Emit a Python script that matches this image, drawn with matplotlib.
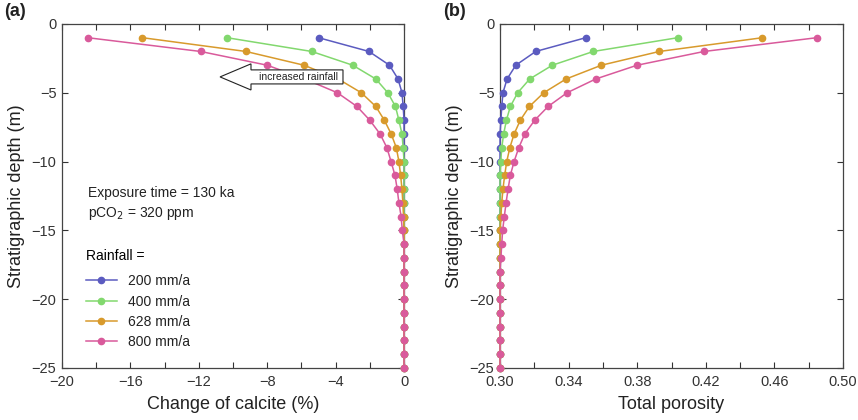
import matplotlib
matplotlib.use('Agg')
import matplotlib.pyplot as plt
from matplotlib.patches import Polygon
from matplotlib.ticker import MultipleLocator, FuncFormatter

plt.rcParams['font.family'] = ['Liberation Sans', 'DejaVu Sans']

# ----------------------------------------------------------------
# Data: depth profiles, 1 m spacing from -1 to -25 m
# ----------------------------------------------------------------
depth = list(range(-1, -26, -1))
rainfall = ['200 mm/a', '400 mm/a', '628 mm/a', '800 mm/a']
colors = ['#5b5bc0', '#82d86e', '#d89a2c', '#d95a9b']

calcite_200 = [-5.0, -2.05, -0.85, -0.35, -0.12, -0.05] + [0.0] * 19
calcite_400 = [-10.35, -5.4, -3.0, -1.65, -0.95, -0.5, -0.3, -0.12, -0.05] + [0.0] * 16
calcite_628 = [-15.3, -9.25, -5.85, -3.85, -2.5, -1.65, -1.15, -0.75, -0.45, -0.3,
               -0.2, -0.12, -0.07, -0.03] + [0.0] * 11
calcite_800 = [-18.5, -11.9, -8.0, -5.8, -3.9, -2.75, -2.0, -1.4, -1.0, -0.76,
               -0.53, -0.4, -0.3, -0.17, -0.1] + [0.0] * 10

poro_200 = [0.350, 0.3208, 0.3092, 0.3041, 0.3017, 0.301, 0.3005] + [0.300] * 18
poro_400 = [0.4036, 0.3544, 0.3305, 0.3173, 0.3103, 0.306, 0.3037, 0.3021, 0.301,
            0.3004] + [0.300] * 15
poro_628 = [0.453, 0.3929, 0.3591, 0.3385, 0.3255, 0.3171, 0.3118, 0.3082, 0.3057,
            0.3039, 0.3027, 0.3017, 0.301, 0.3005] + [0.300] * 11
poro_800 = [0.4847, 0.419, 0.3799, 0.3558, 0.3391, 0.328, 0.3202, 0.3144, 0.3109,
            0.3082, 0.306, 0.3047, 0.3035, 0.3025, 0.3015, 0.301, 0.3005] + [0.300] * 8

calcite = [calcite_200, calcite_400, calcite_628, calcite_800]
porosity = [poro_200, poro_400, poro_628, poro_800]

# ----------------------------------------------------------------
fig = plt.figure(figsize=(8.58, 4.2), dpi=100)
axa = fig.add_axes([0.0723, 0.124, 0.3986, 0.819])
axb = fig.add_axes([0.5828, 0.124, 0.3998, 0.819])

tick_col = '#333333'
for ax in (axa, axb):
    ax.tick_params(direction='in', top=True, right=True, length=4, width=0.8,
                   labelsize=10.5, colors=tick_col, pad=4)
    ax.tick_params(axis='x', pad=5)
    for s in ax.spines.values():
        s.set_linewidth(0.9)
        s.set_color('#444444')
    ax.set_ylim(-25, 0)
    ax.yaxis.set_major_locator(MultipleLocator(5))
    ax.set_ylabel('Stratigraphic depth (m)', fontsize=13, color='#222222', labelpad=5)

for vals, col, lab in zip(calcite, colors, rainfall):
    axa.plot(vals, depth, '-o', color=col, lw=1.1, ms=4.5, label=lab, zorder=3,
             clip_on=False)
for vals, col in zip(porosity, colors):
    axb.plot(vals, depth, '-o', color=col, lw=1.1, ms=4.5, zorder=3, clip_on=False)

axa.set_xlim(-20, 0)
axa.xaxis.set_major_locator(MultipleLocator(2))
axa.xaxis.set_major_formatter(FuncFormatter(
    lambda v, p: ('%d' % round(v)).replace('-', '\u2212') if round(v) % 4 == 0 else ''))
axa.set_xlabel('Change of calcite (%)', fontsize=13, color='#222222', labelpad=5)

axb.set_xlim(0.30, 0.50)
axb.xaxis.set_major_locator(MultipleLocator(0.02))
axb.xaxis.set_major_formatter(FuncFormatter(
    lambda v, p: '%.2f' % v if round(v * 100) % 4 == 2 else ''))
axb.set_xlabel('Total porosity', fontsize=13, color='#222222', labelpad=5)

# annotations in panel (a)
axa.text(-18.5, -12.3, 'Exposure time = 130 ka', fontsize=10, color='#222222', va='center')
axa.text(-18.5, -13.75, 'pCO$_2$ = 320 ppm', fontsize=10, color='#222222', va='center')
leg = axa.legend(loc='upper left', bbox_to_anchor=(0.07, 0.345), frameon=False,
                 title='Rainfall =', alignment='left', fontsize=10, title_fontsize=10,
                 handlelength=2.2, handletextpad=0.8, labelspacing=0.45, borderpad=0,
                 borderaxespad=0)
leg._legend_box.sep = 8
for t in leg.get_texts():
    t.set_color('#222222')

# "increased rainfall" arrow
arrow = Polygon([(-10.76, -3.85), (-8.95, -2.9), (-8.95, -3.34), (-3.57, -3.34),
                 (-3.57, -4.36), (-8.95, -4.36), (-8.95, -4.8)], closed=True,
                fc='white', ec='#222222', lw=0.8, zorder=5)
axa.add_patch(arrow)
axa.text(-6.2, -3.85, 'increased rainfall', fontsize=7.5, ha='center', va='center',
         color='#222222', zorder=6)

fig.text(0.005, 0.962, '(a)', fontsize=13, fontweight='bold', color='#222222')
fig.text(0.516, 0.962, '(b)', fontsize=13, fontweight='bold', color='#222222')

plt.savefig('out.png', dpi=100)
plt.close()
